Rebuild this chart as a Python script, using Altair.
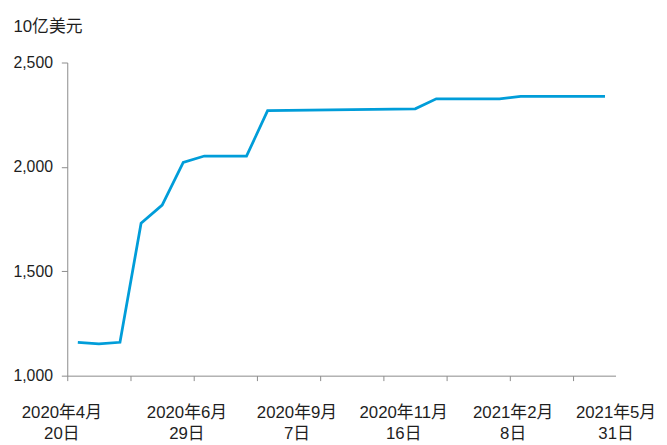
import json
import altair as alt
import pandas as pd

# ---- data ----
week_index = [0, 1, 2, 3, 4, 5, 6, 8, 9, 16, 17, 20, 21, 25]
value_bn = [1160, 1152, 1160, 1730, 1817, 2022, 2052, 2052, 2269, 2278, 2326, 2326, 2338, 2338]
label_line1 = ["2020年4月", "2020年6月", "2020年9月", "2020年11月", "2021年2月", "2021年5月"]
label_line2 = ["20日", "29日", "7日", "16日", "8日", "31日"]
y_ticks = [1000, 1500, 2000, 2500]
y_title = "10亿美元"

# ---- layout ----
n_categories = 26
tick_every = 3
label_pos = [0, 5.65, 10.87, 15.93, 21.12, 26.0]

df = pd.DataFrame({"idx": week_index, "value": value_bn})

FONT = "Liberation Sans, Arial, Noto Sans CJK SC, sans-serif"
TEXT = "#1e1e1e"
AXIS = "#8a8a8a"
LINE = "#009dd9"

xscale = alt.Scale(domain=[0, n_categories], nice=False, zero=False)
yscale = alt.Scale(domain=[1000, 2500], nice=False, zero=False)

labels = [[a, b] for a, b in zip(label_line1, label_line2)]
label_expr = (
    json.dumps(labels, ensure_ascii=False)
    + "[indexof(" + json.dumps(label_pos) + ", datum.value)]"
)

line = (
    alt.Chart(df)
    .transform_calculate(pos="datum.idx + 0.5")
    .mark_line(color=LINE, strokeWidth=2.8)
    .encode(
        x=alt.X(
            "pos:Q",
            scale=xscale,
            axis=alt.Axis(
                orient="bottom",
                values=list(range(0, n_categories, tick_every)),
                labels=False,
                ticks=True,
                tickSize=5,
                tickColor=AXIS,
                domainColor=AXIS,
                grid=False,
                title=None,
            ),
        ),
        y=alt.Y(
            "value:Q",
            scale=yscale,
            axis=alt.Axis(
                values=y_ticks,
                format=",d",
                grid=False,
                tickSize=6,
                tickColor=AXIS,
                domainColor=AXIS,
                labelPadding=9,
                labelFontSize=16,
                labelColor=TEXT,
                labelFont=FONT,
                title=y_title,
                titleAngle=0,
                titleX=-55,
                titleY=-36,
                titleAlign="left",
                titleBaseline="middle",
                titleFontSize=17,
                titleFontWeight="normal",
                titleFont=FONT,
                titleColor=TEXT,
            ),
        ),
    )
)

label_layer = (
    alt.Chart(df)
    .transform_calculate(pos="datum.idx + 0.5")
    .mark_point(opacity=0)
    .encode(
        x=alt.X(
            "pos:Q",
            scale=xscale,
            axis=alt.Axis(
                orient="bottom",
                values=label_pos,
                labelExpr=label_expr,
                labelOffset=alt.condition("datum.value == 0", alt.value(-6), alt.value(0)),
                ticks=False,
                domain=False,
                grid=False,
                labelFontSize=17,
                labelLineHeight=22,
                labelPadding=29,
                labelFlush=False,
                labelOverlap=False,
                labelBound=False,
                labelColor=TEXT,
                labelFont=FONT,
                labelAlign="center",
                title=None,
            ),
        )
    )
)

chart = (
    alt.layer(line, label_layer)
    .resolve_axis(x="independent")
    .properties(
        width=555,
        height=317,
        autosize=alt.AutoSizeParams(type="none"),
        padding={"left": 60, "top": 52.5, "right": 44, "bottom": 67.5},
    )
    .configure_view(stroke=None)
    .configure_axis(labelFont=FONT, labelColor=TEXT)
)

chart.save("out.html", embed_options={"renderer": "svg", "actions": False})
